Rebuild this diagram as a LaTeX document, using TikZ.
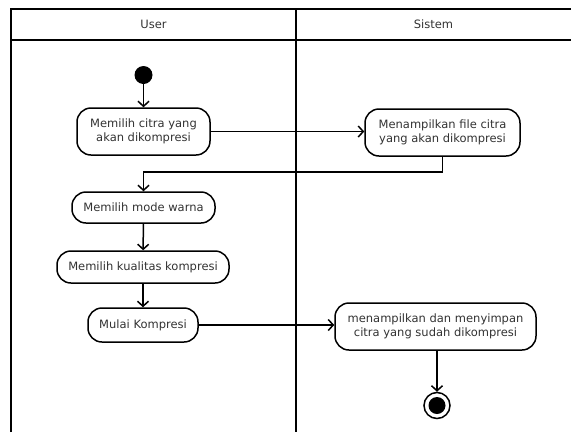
\documentclass[tikz,border=0pt]{standalone}
\usepackage{fontspec}
\setmainfont{DejaVu Sans}
\usetikzlibrary{arrows.meta}
\begin{document}
\begin{tikzpicture}[x=1pt,y=-1pt,
  act/.style={draw, line width=1.5pt, rounded corners=14pt, align=center,
    font=\fontsize{11.5}{13.5}\selectfont, inner sep=0pt, fill=white, text=black!80},
  flow/.style={line width=1.5pt, -{Straight Barb[length=5pt,width=11pt,line width=1.5pt]}},
  lane/.style={line width=1.7pt},
  title/.style={font=\fontsize{11.5}{13}\selectfont, text=black!80}]
\useasboundingbox (0,0) rectangle (571,432);
% swimlanes
\draw[lane] (11,432) -- (11,9) -- (575,9);
\draw[lane] (11,40) -- (575,40);
\draw[lane] (296,9) -- (296,432);
\node[title] (tuser) at (153.5,24.5) {User};
\node[title] (tsis) at (433.5,24.5) {Sistem};
% nodes
\node[circle, fill=black, minimum size=18pt, inner sep=0pt] (start) at (143.5,75) {};
\node[act, minimum width=133pt, minimum height=47pt] (n1) at (143.5,131.5) {Memilih citra yang\\akan dikompresi};
\node[act, minimum width=155pt, minimum height=47pt] (n2) at (442.5,132.5) {Menampilkan file citra\\yang akan dikompresi};
\node[act, minimum width=143pt, minimum height=31pt] (n3) at (143.5,207.5) {Memilih mode warna};
\node[act, minimum width=172pt, minimum height=32pt] (n4) at (143,267) {Memilih kualitas kompresi};
\node[act, minimum width=110pt, minimum height=34pt] (n5) at (143,325) {Mulai Kompresi};
\node[act, minimum width=201pt, minimum height=47pt] (n6) at (435.5,326.5) {menampilkan dan menyimpan\\citra yang sudah dikompresi};
\node[circle, draw, line width=1.5pt, minimum size=26pt, inner sep=0pt] (endo) at (437,405.5) {};
\node[circle, fill=black, minimum size=17pt, inner sep=0pt] (endi) at (endo) {};
\coordinate (k) at (143.5,172);
% flows
\draw[flow] (start) -- (n1);
\draw[flow] (n1.east) -- (n1.east -| n2.west);
\draw[flow] (n2.south) -- (n2.south |- k) -- (n3.north |- k) -- (n3.north);
\draw[flow] (n3) -- (n4);
\draw[flow] (n4) -- (n5);
\draw[flow] (n5.east) -- (n5.east -| n6.west);
\draw[flow] (n6.south -| endo) -- (endo);
\end{tikzpicture}
\end{document}
